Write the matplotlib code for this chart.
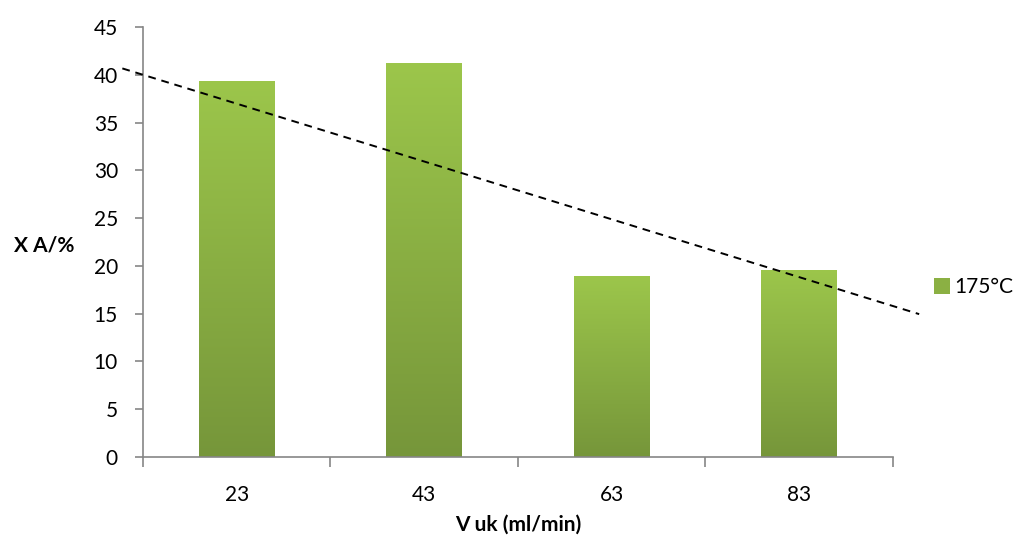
import numpy as np
import matplotlib
matplotlib.use('Agg')
import matplotlib.pyplot as plt
from matplotlib.colors import LinearSegmentedColormap
from matplotlib.patches import Patch

plt.rcParams['font.family'] = ['Lato', 'DejaVu Sans']

# datos
categorias = ['23', '43', '63', '83']
valores = [39.4, 41.2, 18.9, 19.6]
serie = '175°C'
# linea de tendencia: valor en x=0.5 y pendiente por categoria
tend_x = [0.39, 4.64]
tend_ordenada = 40.0
tend_pendiente = -6.05

fig = plt.figure(figsize=(10.24, 5.42), dpi=100)
ax = fig.add_axes([0.1396, 0.1568, 0.7324, 0.7934])

x = np.arange(1, len(categorias) + 1)
barras = ax.bar(x, valores, width=0.405, color='#8bb043', zorder=2)

# degradado vertical en cada barra
cmap = LinearSegmentedColormap.from_list('verde', ['#76963a', '#9cc64b'])
grad = np.linspace(0, 1, 256).reshape(-1, 1)
for b in barras:
    x0, y0 = b.get_x(), b.get_y()
    w, h = b.get_width(), b.get_height()
    b.set_facecolor('none')
    im = ax.imshow(grad, cmap=cmap, origin='lower', aspect='auto',
                   extent=[x0, x0 + w, y0, y0 + h], zorder=2)
    im.set_clip_path(b)

# tendencia
xt = np.array(tend_x)
yt = tend_ordenada + tend_pendiente * (xt - 0.5)
ax.plot(xt, yt, color='black', linestyle=(0, (4, 3)), linewidth=1.4,
        zorder=3, clip_on=False)

ax.set_xlim(0.5, len(categorias) + 0.5)
ax.set_ylim(0, 45)
ax.set_yticks(range(0, 46, 5))
ax.set_xticks(np.arange(0.5, len(categorias) + 1, 1))
ax.set_xticklabels([])
ax.set_xticks(x, minor=True)
ax.set_xticklabels(categorias, minor=True)
ax.tick_params(axis='x', which='minor', length=0, labelsize=15, pad=20)
ax.tick_params(axis='x', which='major', length=7, color='#868686', width=1.2)
ax.tick_params(axis='y', length=6, color='#868686', width=1.2, labelsize=15, pad=12)

for s in ['top', 'right']:
    ax.spines[s].set_visible(False)
for s in ['left', 'bottom']:
    ax.spines[s].set_color('#868686')
    ax.spines[s].set_linewidth(1.2)

fig.text(0.506, 0.032, 'V uk (ml/min)', fontsize=15, fontweight='bold', ha='center', va='center')
fig.text(0.043, 0.547, 'X A/%', fontsize=15, fontweight='bold', ha='center', va='center')

leg = fig.legend(handles=[Patch(facecolor='#8bb043', label=serie)],
                 loc='center left', bbox_to_anchor=(0.912, 0.47), frameon=False,
                 fontsize=15, handlelength=0.75, handleheight=0.75, handletextpad=0.25,
                 borderpad=0, borderaxespad=0)

fig.savefig('out.png', dpi=100)
